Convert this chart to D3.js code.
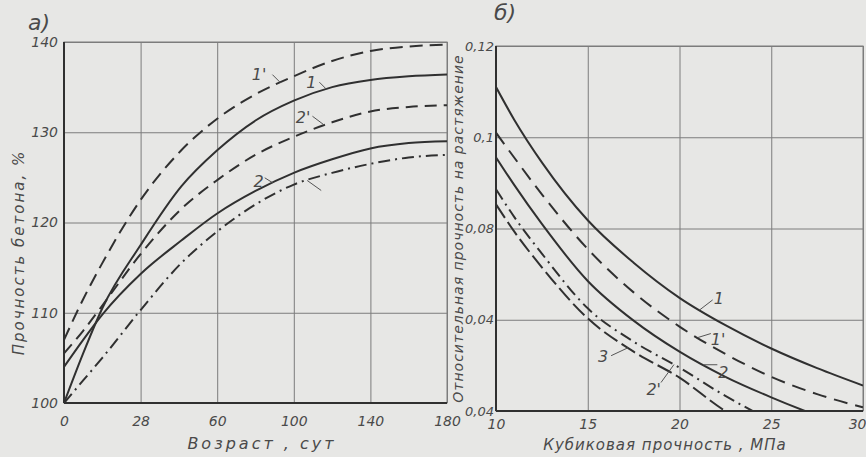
<!DOCTYPE html>
<html><head><meta charset="utf-8">
<script src="https://cdn.jsdelivr.net/npm/d3@7/dist/d3.min.js"></script>
<style>
html,body{margin:0;padding:0;background:#e7e7e5;}
svg{display:block;}
text{font-family:"DejaVu Sans","Liberation Sans",sans-serif;font-style:italic;fill:#4a4a4a;}
</style></head><body>
<script>
// ---------- Panel а) : strength vs age ----------
const ageTicks = [0, 28, 60, 100, 140, 180];
const ageTickLabels = ["0", "28", "60", "100", "140", "180"];
const strengthTicks = [100, 110, 120, 130, 140];
const ageDays = [0, 7, 14, 28, 45, 60, 80, 100, 120, 140, 160, 180];
const s1p = [107, 111.5, 115.5, 122.5, 128, 131.5, 134.2, 136.2, 137.9, 139, 139.5, 139.7];
const s1  = [100, 105.5, 110.5, 117.5, 124, 128, 131.3, 133.5, 135, 135.8, 136.2, 136.4];
const s2p = [105.5, 108, 110.8, 116.5, 121.5, 124.7, 127.5, 129.5, 131.1, 132.3, 132.8, 133];
const s2  = [104, 107, 109.8, 114.3, 118, 121, 123.5, 125.5, 127, 128.2, 128.8, 129];
const s3  = [100, 102.5, 105, 110.3, 115.5, 119, 122, 124.2, 125.5, 126.5, 127.2, 127.5];

// ---------- Panel б) : relative tensile strength vs cube strength ----------
const cubeTicks = [10, 15, 20, 25, 30];
const relTicks = [0.04, 0.06, 0.08, 0.10, 0.12];
const relTickLabels = ["0,04", "0,04", "0,08", "0,1", "0,12"];
const cube = [10, 11, 12.5, 15, 17.5, 20, 22.5, 25, 27.5, 30];
const r1  = [0.111, 0.1038, 0.0945, 0.0818, 0.0725, 0.0648, 0.0588, 0.0537, 0.0494, 0.0456];
const r1p = [0.101, 0.0955, 0.0875, 0.0755, 0.066, 0.0585, 0.0525, 0.0475, 0.0437, 0.0408];
const r2  = [0.0956, 0.0895, 0.081, 0.0685, 0.0598, 0.053, 0.0475, 0.043, 0.039, 0.0355];
const r2p = [0.0886, 0.0825, 0.0745, 0.0625, 0.0552, 0.0495, 0.0433, 0.038, 0.034, 0.031];
const r3  = [0.0853, 0.0793, 0.0715, 0.0603, 0.053, 0.0473, 0.040, 0.035, 0.031, 0.028];

const W = 866, H = 457;
const svg = d3.select("body").append("svg").attr("width", W).attr("height", H);
const ink = "#303030", grid = "#7c7c7c";

function valAt(xs, ys, x) { return d3.scaleLinear().domain(xs).range(ys)(x); }

// ===== Panel а =====
const A = {l: 64, r: 447, t: 42, b: 403};
const xA = d3.scaleLinear().domain(ageTicks)
  .range(ageTicks.map((d, i) => A.l + i * (A.r - A.l) / (ageTicks.length - 1)));
const yA = d3.scaleLinear().domain([100, 140]).range([A.b, A.t]);

const gA = svg.append("g");
gA.append("g").attr("transform", `translate(0,${A.b})`)
  .call(d3.axisBottom(xA).tickValues(ageTicks).tickSize(-(A.b - A.t)).tickFormat((d, i) => ageTickLabels[i]))
  .call(g => { g.select(".domain").remove();
    g.selectAll("line").attr("stroke", grid).attr("stroke-width", 1);
    g.selectAll("text").attr("dy", "1.45em").attr("font-size", 14).attr("fill", "#4a4a4a"); });
gA.append("g").attr("transform", `translate(${A.l},0)`)
  .call(d3.axisLeft(yA).tickValues(strengthTicks).tickSize(-(A.r - A.l)).tickPadding(6))
  .call(g => { g.select(".domain").remove();
    g.selectAll("line").attr("stroke", grid).attr("stroke-width", 1);
    g.selectAll("text").attr("font-size", 14).attr("fill", "#4a4a4a"); });
gA.append("rect").attr("x", A.l).attr("y", A.t).attr("width", A.r - A.l).attr("height", A.b - A.t)
  .attr("fill", "none").attr("stroke", grid).attr("stroke-width", 1);
gA.append("line").attr("x1", A.l).attr("x2", A.l).attr("y1", A.t).attr("y2", A.b).attr("stroke", ink).attr("stroke-width", 2);
gA.append("line").attr("x1", A.l).attr("x2", A.r).attr("y1", A.b).attr("y2", A.b).attr("stroke", ink).attr("stroke-width", 2);

const lineA = d3.line().x((d, i) => xA(ageDays[i])).y(d => yA(d)).curve(d3.curveMonotoneX);
const seriesA = [
  {v: s1p, dash: "13,7"},
  {v: s1, dash: null},
  {v: s2p, dash: "12,7"},
  {v: s2, dash: null},
  {v: s3, dash: "12,5,2,5"}
];
seriesA.forEach(s => gA.append("path").datum(s.v).attr("d", lineA)
  .attr("fill", "none").attr("stroke", ink).attr("stroke-width", 2)
  .attr("stroke-dasharray", s.dash));

// label: curve point at "at"; text offset (tx,ty); leader from point to (lx,ly) offset
const labelsA = [
  {t: "1'", v: s1p, at: 93, tx: -14, ty: -3, lx: -8, ly: -8},
  {t: "1", v: s1, at: 117, tx: -10, ty: -1, lx: -7, ly: -7},
  {t: "2'", v: s2p, at: 116, tx: -14, ty: -2, lx: -12, ly: -9},
  {t: "2", v: s2, at: 89, tx: -9, ty: 4, lx: -8, ly: -5},
  {t: "", v: s3, at: 107, tx: 0, ty: 0, lx: 14, ly: 10}
];
labelsA.forEach(L => {
  const px = xA(L.at), py = yA(valAt(ageDays, L.v, L.at));
  gA.append("line").attr("x1", px).attr("y1", py).attr("x2", px + L.lx).attr("y2", py + L.ly)
    .attr("stroke", "#555").attr("stroke-width", 1);
  if (L.t) gA.append("text").attr("x", px + L.tx).attr("y", py + L.ty).attr("text-anchor", "end")
    .attr("font-size", 16).text(L.t);
});
svg.append("text").attr("x", 28).attr("y", 30).attr("font-size", 22).text("a)");
svg.append("text").attr("transform", `translate(24,${(A.t + A.b) / 2 + 30}) rotate(-90)`)
  .attr("text-anchor", "middle").attr("font-size", 15).attr("letter-spacing", 2).text("Прочность  бетона, %");
svg.append("text").attr("x", 262).attr("y", 449).attr("text-anchor", "middle")
  .attr("font-size", 16).attr("letter-spacing", 3).text("Возраст , сут");

// ===== Panel б =====
const B = {l: 496, r: 863, t: 46, b: 411};
const xB = d3.scaleLinear().domain([10, 30]).range([B.l, B.r]);
const yB = d3.scaleLinear().domain([0.04, 0.12]).range([B.b, B.t]);
const gB = svg.append("g");
gB.append("g").attr("transform", `translate(0,${B.b})`)
  .call(d3.axisBottom(xB).tickValues(cubeTicks).tickSize(-(B.b - B.t)))
  .call(g => { g.select(".domain").remove();
    g.selectAll("line").attr("stroke", grid).attr("stroke-width", 1);
    g.selectAll("text").attr("dy", "1.1em").attr("font-size", 14).attr("fill", "#4a4a4a");
    g.selectAll("text").filter(d => d === 30).attr("text-anchor", "end").attr("dx", 3); });
gB.append("g").attr("transform", `translate(${B.l},0)`)
  .call(d3.axisLeft(yB).tickValues(relTicks).tickSize(-(B.r - B.l)).tickPadding(2).tickFormat((d, i) => relTickLabels[i]))
  .call(g => { g.select(".domain").remove();
    g.selectAll("line").attr("stroke", grid).attr("stroke-width", 1);
    g.selectAll("text").attr("font-size", 13).attr("fill", "#4a4a4a"); });
gB.append("rect").attr("x", B.l).attr("y", B.t).attr("width", B.r - B.l).attr("height", B.b - B.t)
  .attr("fill", "none").attr("stroke", grid).attr("stroke-width", 1);
gB.append("line").attr("x1", B.l).attr("x2", B.l).attr("y1", B.t).attr("y2", B.b).attr("stroke", ink).attr("stroke-width", 2);
gB.append("line").attr("x1", B.l).attr("x2", B.r).attr("y1", B.b).attr("y2", B.b).attr("stroke", ink).attr("stroke-width", 2);

svg.append("clipPath").attr("id", "clipB").append("rect")
  .attr("x", B.l).attr("y", B.t).attr("width", B.r - B.l).attr("height", B.b - B.t - 1);
const lineB = d3.line().x((d, i) => xB(cube[i])).y(d => yB(d)).curve(d3.curveMonotoneX);
const seriesB = [
  {v: r1, dash: null},
  {v: r1p, dash: "14,8"},
  {v: r2, dash: null},
  {v: r2p, dash: "12,5,2,5"},
  {v: r3, dash: "16,5"}
];
const gLines = gB.append("g").attr("clip-path", "url(#clipB)");
seriesB.forEach(s => gLines.append("path").datum(s.v).attr("d", lineB)
  .attr("fill", "none").attr("stroke", ink).attr("stroke-width", 2)
  .attr("stroke-dasharray", s.dash));

const labelsB = [
  {t: "1", v: r1, at: 21.1, tx: 14, ty: -6, lx: 13, ly: -10, anchor: "start"},
  {t: "1'", v: r1p, at: 21.0, tx: 13, ty: 7, lx: 13, ly: -4, anchor: "start"},
  {t: "2", v: r2, at: 21.3, tx: 15, ty: 13, lx: 14, ly: 0, anchor: "start"},
  {t: "3", v: r3, at: 17.2, tx: -20, ty: 14, lx: -17, ly: 8, anchor: "end"},
  {t: "2'", v: r2p, at: 19.7, tx: -13, ty: 30, lx: -13, ly: 18, anchor: "end"}
];
labelsB.forEach(L => {
  const px = xB(L.at), py = yB(valAt(cube, L.v, L.at));
  gB.append("line").attr("x1", px).attr("y1", py).attr("x2", px + L.lx).attr("y2", py + L.ly)
    .attr("stroke", "#555").attr("stroke-width", 1);
  gB.append("text").attr("x", px + L.tx).attr("y", py + L.ty).attr("text-anchor", L.anchor)
    .attr("font-size", 16).text(L.t);
});
svg.append("text").attr("x", 494).attr("y", 20).attr("font-size", 22).text("б)");
svg.append("text").attr("transform", `translate(463,${(B.t + B.b) / 2}) rotate(-90)`)
  .attr("text-anchor", "middle").attr("font-size", 14).attr("letter-spacing", 1).text("Относительная  прочность на растяжение");
svg.append("text").attr("x", 665).attr("y", 450).attr("text-anchor", "middle")
  .attr("font-size", 15).attr("letter-spacing", 1).text("Кубиковая   прочность , МПа");
</script>
</body></html>
